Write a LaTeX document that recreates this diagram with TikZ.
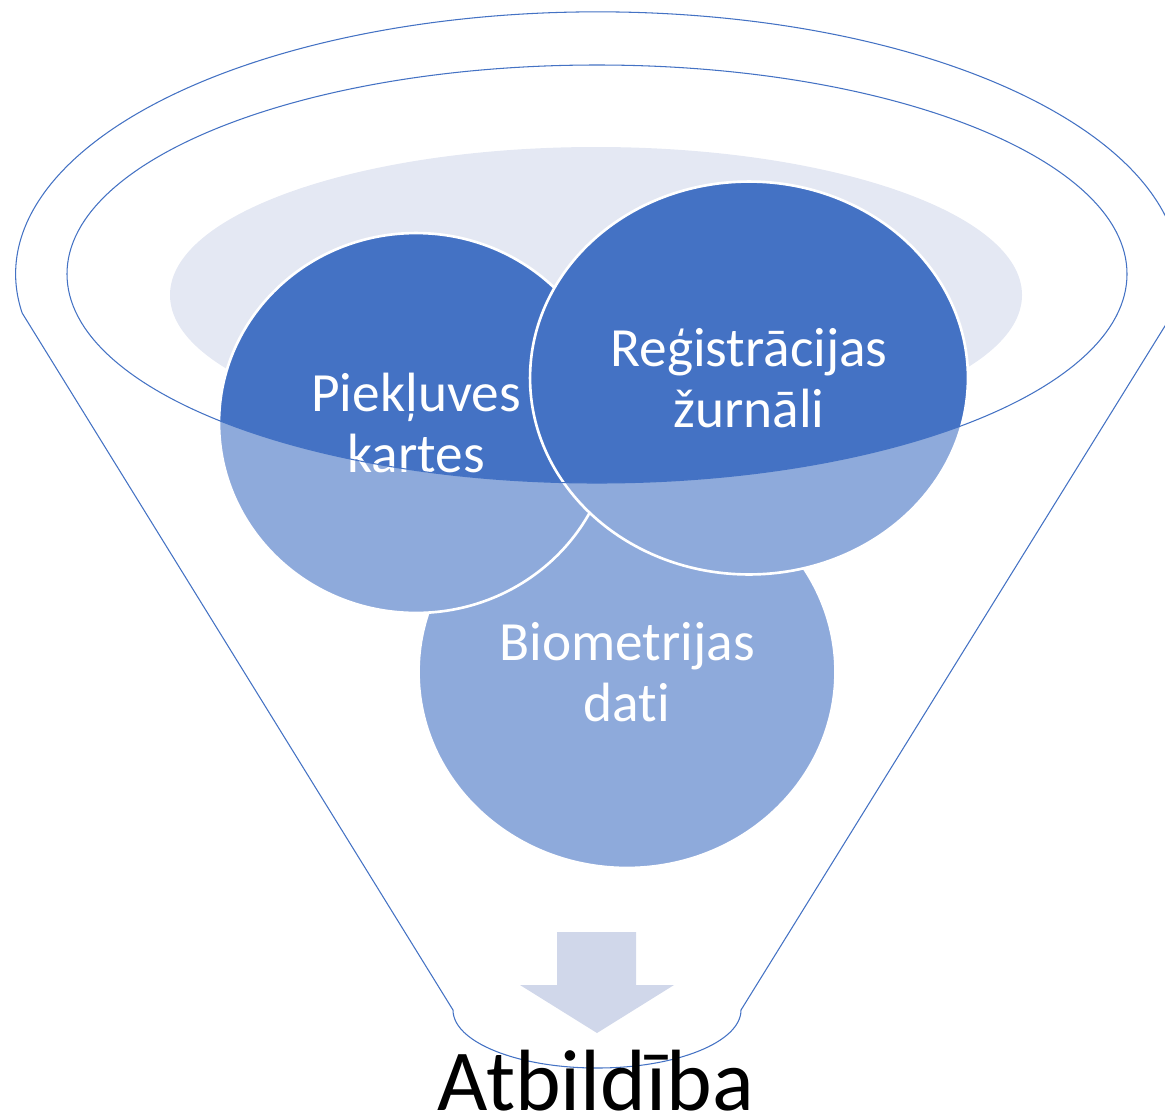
\documentclass[tikz,border=0pt]{standalone}
\usepackage{fontspec}
\setmainfont{Carlito}[Ligatures={NoCommon,NoContextual}]
\definecolor{fnblue}{HTML}{4472C4}
\definecolor{fnpale}{HTML}{E4E8F3}
\definecolor{fnarrow}{HTML}{D0D7EA}
\usetikzlibrary{shapes.geometric}

\begin{document}
\begin{tikzpicture}[
  x=0.02cm, y=-0.02cm,
  blob/.style={ellipse, draw=white, line width=1.5pt, fill=fnblue,
    text=white, align=center, inner sep=0pt,
    font=\fontsize{31.5}{35}\selectfont},
  rim/.style={draw=fnblue, line width=0.6pt}
]
  \useasboundingbox (0,0) rectangle (1165,1116);
  \clip (0,0) rectangle (1165,1116);

  % Back of the funnel
  \fill[fnpale] (596,295) ellipse[x radius=426, y radius=148];

  % Circles
  \node[blob, minimum width=8.34cm, minimum height=7.84cm] (bio) at (627,672) {Biometrijas\\dati};
  \node[blob, minimum width=7.88cm, minimum height=7.6cm] (cards) at (416,423) {Piekļuves\\kartes};
  \node[blob, minimum width=8.76cm, minimum height=7.86cm] (logs) at (749,378) {Reģistrācijas\\žurnāli};

  % Front of the funnel
  \fill[white, fill opacity=0.4, even odd rule] (0,0) rectangle (1165,1116)
    (597,274) ellipse[x radius=530, y radius=209];

  % Outline
  \draw[rim] (597,274) ellipse[x radius=530, y radius=209];
  \draw[rim] (1173,313) arc[start angle=8.6, end angle=-188.6, x radius=582, y radius=262]
    -- (453,1010) arc[start angle=180, end angle=0, x radius=144, y radius=58] -- cycle;

  % Arrow
  \fill[fnarrow] (557,932) -- (636,932) -- (636,985) -- (674,985) -- (597,1033)
    -- (520,985) -- (557,985) -- cycle;

  % Result
  \node[font=\fontsize{49.5}{58}\selectfont, anchor=base] (result) at (596,1110) {Atbildība};
\end{tikzpicture}
\end{document}
